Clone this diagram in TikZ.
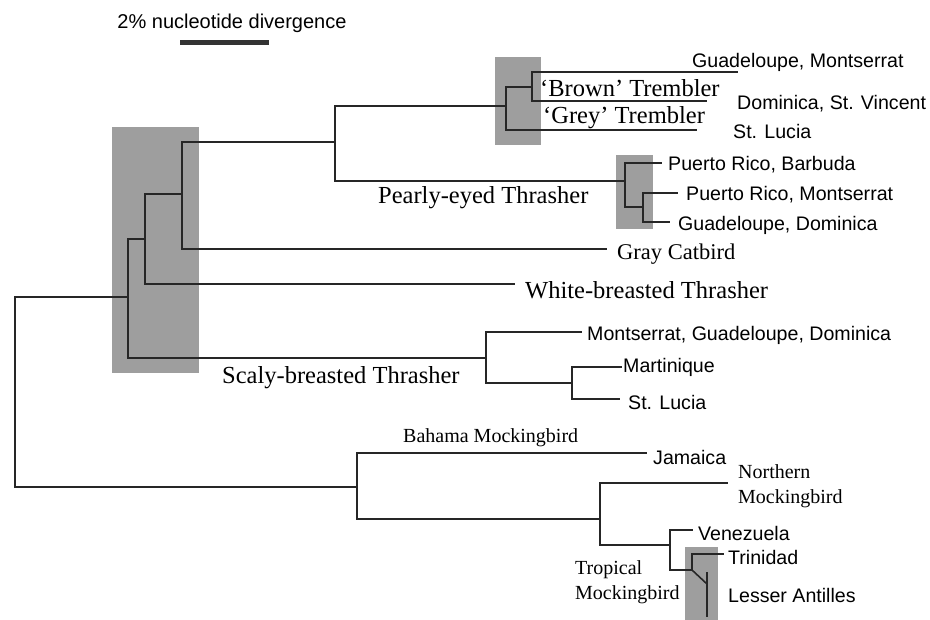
\documentclass[tikz,border=0pt]{standalone}
\usepackage{fontspec}
\setmainfont{Liberation Serif}
\setsansfont{Liberation Sans}
\tikzset{
  branch/.style={line width=1.6pt, black!85},
  clade/.style={fill=black!38, draw=none},
  taxon/.style={anchor=west, inner sep=0pt, font=\sffamily\fontsize{19.6}{22}\selectfont},
  group/.style={anchor=west, inner sep=0pt, font=\fontsize{24.5}{26}\selectfont},
  smallgroup/.style={anchor=west, inner sep=0pt, align=left, font=\fontsize{20}{25}\selectfont}
}
\begin{document}
\begin{tikzpicture}[x=1pt, y=-1pt]
    \useasboundingbox[fill=white] (0,0) rectangle (930,620);
    % shaded clades
    \fill[clade] (112,127) rectangle (199,373);
    \fill[clade] (495,57) rectangle (541,145);
    \fill[clade] (616,155) rectangle (653,229);
    \fill[clade] (685,547) rectangle (718,620);
    % scale bar
    \node[taxon, anchor=center, font=\sffamily\fontsize{20}{22}\selectfont] (scale) at (232,23) {2\% nucleotide divergence};
    \coordinate (bar-l) at (180,43);
    \coordinate (bar-r) at (269,43);
    \draw[line width=5pt, black!80] (bar-l) -- (bar-r);
    % internal nodes
    \coordinate (root) at (15,392);
    \coordinate (A) at (128,297);
    \coordinate (B) at (145,239);
    \coordinate (C) at (182,194);
    \coordinate (D) at (335,142);
    \coordinate (E) at (506,106);
    \coordinate (F) at (532,87);
    \coordinate (G) at (625,181);
    \coordinate (H) at (643,207);
    \coordinate (I) at (486,358);
    \coordinate (J) at (572,383);
    \coordinate (K) at (357,487);
    \coordinate (L) at (600,519);
    \coordinate (M) at (670,545);
    \coordinate (N) at (692,570);
    \coordinate (O) at (707,584);
    % branch tips
    \coordinate (t-gm) at (738,72);
    \coordinate (t-dsv) at (707,101);
    \coordinate (t-slt) at (697,130);
    \coordinate (t-prb) at (662,163);
    \coordinate (t-prm) at (678,193);
    \coordinate (t-gd) at (670,222);
    \coordinate (t-cat) at (607,249);
    \coordinate (t-wbt) at (515,284);
    \coordinate (t-mgd) at (582,332);
    \coordinate (t-mar) at (622,367);
    \coordinate (t-sls) at (620,399);
    \coordinate (t-jam) at (647,453);
    \coordinate (t-nm) at (728,483);
    \coordinate (t-ven) at (693,530);
    \coordinate (t-tri) at (724,554);
    \coordinate (t-la1) at (707,572);
    \coordinate (t-la2) at (707,617);
    % thrashers and catbird
    \draw[branch] (root) |- (A);
    \draw[branch] (A) |- (B);
    \draw[branch] (A) |- (I);
    \draw[branch] (B) |- (C);
    \draw[branch] (B) |- (t-wbt);
    \draw[branch] (C) |- (D);
    \draw[branch] (C) |- (t-cat);
    \draw[branch] (D) |- (E);
    \draw[branch] (D) |- (G);
    \draw[branch] (E) |- (F);
    \draw[branch] (E) |- (t-slt);
    \draw[branch] (F) |- (t-gm);
    \draw[branch] (F) |- (t-dsv);
    \draw[branch] (G) |- (t-prb);
    \draw[branch] (G) |- (H);
    \draw[branch] (H) |- (t-prm);
    \draw[branch] (H) |- (t-gd);
    \draw[branch] (I) |- (t-mgd);
    \draw[branch] (I) |- (J);
    \draw[branch] (J) |- (t-mar);
    \draw[branch] (J) |- (t-sls);
    % mockingbirds
    \draw[branch] (root) |- (K);
    \draw[branch] (K) |- (t-jam);
    \draw[branch] (K) |- (L);
    \draw[branch] (L) |- (t-nm);
    \draw[branch] (L) |- (M);
    \draw[branch] (M) |- (t-ven);
    \draw[branch] (M) |- (N);
    \draw[branch] (N) |- (t-tri);
    \draw[branch] (N) -- (O);
    \draw[branch] (t-la1) -- (t-la2);
    % tip labels
    \node[taxon] (gm) at (692,62) {Guadeloupe, Montserrat};
    \node[taxon] (dsv) at (737,104) {Dominica, St. Vincent};
    \node[taxon] (slt) at (733,131) {St. Lucia};
    \node[taxon] (prb) at (668,165) {Puerto Rico, Barbuda};
    \node[taxon] (prm) at (686,195) {Puerto Rico, Montserrat};
    \node[taxon] (gd) at (678,225) {Guadeloupe, Dominica};
    \node[taxon] (mgd) at (587,335) {Montserrat, Guadeloupe, Dominica};
    \node[taxon] (mar) at (623,367) {Martinique};
    \node[taxon] (sls) at (628,402) {St. Lucia};
    \node[taxon] (jam) at (653,457) {Jamaica};
    \node[taxon] (ven) at (698,533) {Venezuela};
    \node[taxon] (tri) at (728,557) {Trinidad};
    \node[taxon] (la) at (728,595) {Lesser Antilles};
    % group labels
    \node[group] (brown) at (540,88) {`Brown' Trembler};
    \node[group] (grey) at (543,118) {`Grey' Trembler};
    \node[group] (pearly) at (378,198) {Pearly-eyed Thrasher};
    \node[group, font=\fontsize{22.5}{24}\selectfont] (cat) at (617,254) {Gray Catbird};
    \node[group] (wbt) at (525,290) {White-breasted Thrasher};
    \node[group] (scaly) at (222,378) {Scaly-breasted Thrasher};
    \node[smallgroup] (bahama) at (403,438) {Bahama Mockingbird};
    \node[smallgroup] (north) at (738,486) {Northern\\Mockingbird};
    \node[smallgroup] (trop) at (575,582) {Tropical\\Mockingbird};
\end{tikzpicture}
\end{document}
